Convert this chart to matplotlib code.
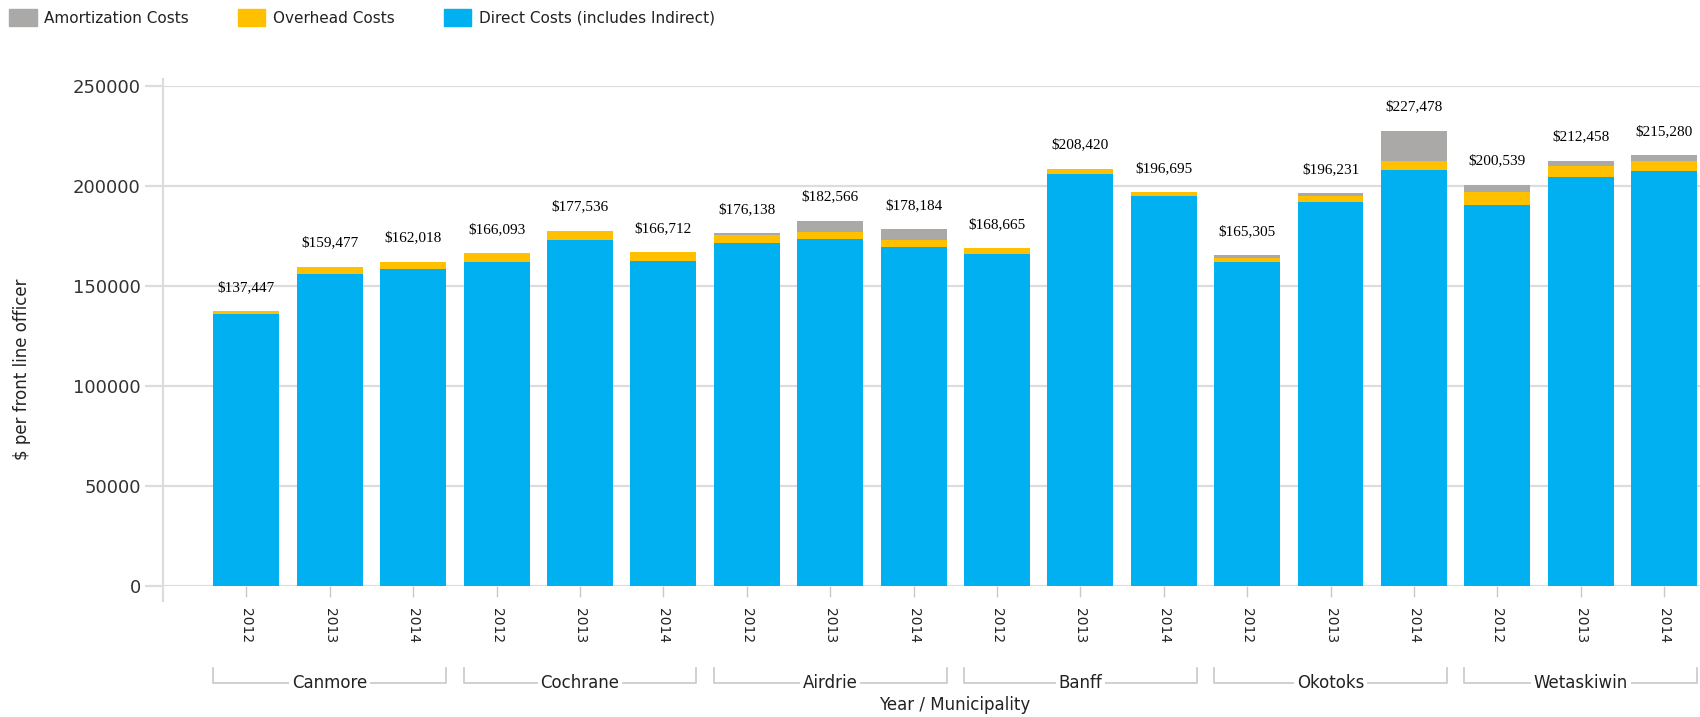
import matplotlib
matplotlib.use('Agg')
import matplotlib.pyplot as plt
from matplotlib.patches import Patch
import numpy as np

#----------------------------------------------------------------------|
# Data: cost per front line officer, by municipality and year

municipalities = ['Canmore', 'Cochrane', 'Airdrie', 'Banff', 'Okotoks', 'Wetaskiwin']
years = ['2012', '2013', '2014']

totals = np.array([137447, 159477, 162018,
                   166093, 177536, 166712,
                   176138, 182566, 178184,
                   168665, 208420, 196695,
                   165305, 196231, 227478,
                   200539, 212458, 215280])
overhead = np.array([1550, 3780, 3650,
                     4500, 4500, 4500,
                     3800, 3650, 3650,
                     2800, 2800, 2000,
                     2000, 3000, 4500,
                     6350, 5500, 5350])
amortization = np.array([0, 0, 0,
                         0, 0, 0,
                         1000, 5500, 5300,
                         0, 0, 0,
                         1500, 1300, 15300,
                         3650, 2500, 2800])
direct = totals - overhead - amortization

c_direct = '#00B0F0'
c_over = '#FFC000'
c_amort = '#ABA8A8'
c_grid = '#DCDCDC'

#----------------------------------------------------------------------|
# Plot

fig = plt.figure(figsize=(17, 7.17), dpi=100)
ax = fig.add_axes([163/1700, 1 - 586/717, 1 - 163/1700, (586 - 85.5)/717])

x = np.arange(len(totals))
w = 0.79
ax.bar(x, direct, w, color=c_direct, zorder=3)
ax.bar(x, overhead, w, bottom=direct, color=c_over, zorder=3)
ax.bar(x, amortization, w, bottom=direct + overhead, color=c_amort, zorder=3)

for xi, t in zip(x, totals):
    ax.annotate('${:,}'.format(t), (xi, t), xytext=(0, 17), textcoords='offset points',
                ha='center', va='center', fontsize=11, family='Liberation Serif',
                color='black')

ax.set_xlim(-1.0, 17.43)
ax.set_ylim(0, 250000)
ax.set_yticks(np.arange(0, 250001, 50000))
ax.yaxis.grid(True, color=c_grid, lw=1.6, zorder=0)
ax.tick_params(axis='y', length=13, width=1.6, color=c_grid, pad=3,
               labelsize=13, labelcolor='#333333')

ax.set_xticks(x)
ax.set_xticklabels(years * len(municipalities), rotation=-90, fontsize=10,
                   color='#222222')
ax.tick_params(axis='x', length=8, width=1, color='#C8C8C8', pad=8)

for s in ax.spines.values():
    s.set_visible(False)
# y axis line, running a little past both ends
ax.plot([0, 0], [-0.03, 1.012], transform=ax.transAxes, color=c_grid, lw=1.6,
        clip_on=False, zorder=2)

# Municipality brackets below the year labels
trans = ax.get_xaxis_transform()
y_br = -(682.5 - 586) / 500.5
y_end = -(668 - 586) / 500.5
for k, name in enumerate(municipalities):
    x0 = 3*k - w/2
    x1 = 3*k + 2 + w/2
    ax.plot([x0, x0, x1, x1], [y_end, y_br, y_br, y_end], transform=trans,
            color='#C8C8C8', lw=1.2, clip_on=False)
    ax.text(3*k + 1, y_br, name, transform=trans, ha='center', va='center',
            fontsize=12, color='#222222',
            bbox=dict(facecolor='white', edgecolor='none', pad=2))

fig.text(955/1700, 1 - 705/717, 'Year / Municipality', ha='center', va='center',
         fontsize=12, color='#222222')
fig.text(22/1700, 1 - 369/717, '$ per front line officer', rotation=90,
         ha='center', va='center', fontsize=12, color='#222222')

handles = [Patch(color=c_amort), Patch(color=c_over), Patch(color=c_direct)]
labels = ['Amortization Costs', 'Overhead Costs', 'Direct Costs (includes Indirect)']
fig.legend(handles, labels, loc='upper left', bbox_to_anchor=(0.0, 1.0), ncol=3,
           frameon=False, fontsize=11, handlelength=1.8, handleheight=1.3,
           handletextpad=0.5, columnspacing=3.2, borderaxespad=0.2,
           labelcolor='#222222')

fig.savefig('out.png', dpi=100)
